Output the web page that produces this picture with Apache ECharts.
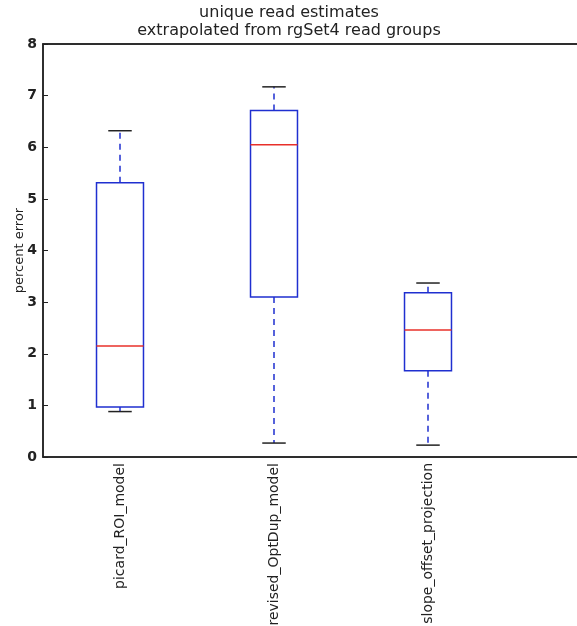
<!DOCTYPE html>
<html><head><meta charset="utf-8">
<script src="https://cdn.jsdelivr.net/npm/echarts@6/dist/echarts.min.js"></script>
<style>html,body{margin:0;padding:0;background:#fff}#c{width:577px;height:626px}</style>
</head><body><div id="c"></div>
<script>
var categories = ['picard_ROI_model', 'revised_OptDup_model', 'slope_offset_projection', ''];
var whiskerLow = [0.88, 0.27, 0.23];
var q1 = [0.97, 3.10, 1.67];
var median = [2.15, 6.05, 2.46];
var q3 = [5.31, 6.71, 3.18];
var whiskerHigh = [6.32, 7.17, 3.37];
var yTicks = [0, 1, 2, 3, 4, 5, 6, 7, 8];

var data = q1.map(function (v, i) {
  return [i, whiskerLow[i], q1[i], median[i], q3[i], whiskerHigh[i]];
});

function renderItem(params, api) {
  var i = api.value(0);
  var band = api.size([1, 0])[0];
  var bw = band * 0.305;
  var cw = bw / 2;
  var x = api.coord([i, 0])[0];
  var yLo = api.coord([i, api.value(1)])[1];
  var yQ1 = api.coord([i, api.value(2)])[1];
  var yMed = api.coord([i, api.value(3)])[1];
  var yQ3 = api.coord([i, api.value(4)])[1];
  var yHi = api.coord([i, api.value(5)])[1];
  var blue = '#1f2fd0';
  return {
    type: 'group',
    children: [
      { type: 'line', shape: { x1: x, y1: yQ1, x2: x, y2: yLo }, style: { stroke: blue, lineWidth: 1.5, lineDash: [6, 5] } },
      { type: 'line', shape: { x1: x, y1: yQ3, x2: x, y2: yHi }, style: { stroke: blue, lineWidth: 1.5, lineDash: [6, 5] } },
      { type: 'line', shape: { x1: x - cw / 2, y1: yLo, x2: x + cw / 2, y2: yLo }, style: { stroke: '#222', lineWidth: 1.5 } },
      { type: 'line', shape: { x1: x - cw / 2, y1: yHi, x2: x + cw / 2, y2: yHi }, style: { stroke: '#222', lineWidth: 1.5 } },
      { type: 'rect', shape: { x: x - bw / 2, y: yQ3, width: bw, height: yQ1 - yQ3 }, style: { fill: 'none', stroke: blue, lineWidth: 1.5 } },
      { type: 'line', shape: { x1: x - bw / 2, y1: yMed, x2: x + bw / 2, y2: yMed }, style: { stroke: '#e8302a', lineWidth: 1.5 } }
    ]
  };
}

var chart = echarts.init(document.getElementById('c'));
chart.setOption({
  animation: false,
  title: {
    text: 'unique read estimates\nextrapolated from rgSet4 read groups',
    left: 284, top: -1, textAlign: 'center',
    textStyle: { fontFamily: 'DejaVu Sans', fontSize: 16, fontWeight: 'normal', color: '#222', lineHeight: 18 }
  },
  grid: { left: 43, top: 44, bottom: 169, width: 616, outerBoundsMode: 'none', containLabel: false, show: true, borderColor: '#222', borderWidth: 1.5, backgroundColor: 'transparent' },
  xAxis: [{
    type: 'category', data: categories, position: 'bottom',
    axisLine: { lineStyle: { color: '#222', width: 1.5 } },
    axisTick: { inside: true, alignWithLabel: true, length: 5, lineStyle: { color: '#222' } },
    axisLabel: { rotate: 90, margin: 6, color: '#222', fontFamily: 'DejaVu Sans', fontSize: 14, interval: 0 }
  }, {
    type: 'category', data: categories, position: 'top',
    axisLine: { lineStyle: { color: '#222', width: 1.5 } },
    axisTick: { inside: true, alignWithLabel: true, length: 5, lineStyle: { color: '#222' } },
    axisLabel: { show: false }
  }],
  yAxis: {
    type: 'value', min: yTicks[0], max: yTicks[yTicks.length - 1], interval: 1,
    name: 'percent error', nameLocation: 'middle', nameGap: 17, nameMoveOverlap: false,
    nameTextStyle: { fontFamily: 'DejaVu Sans', fontSize: 13, color: '#222' },
    axisLine: { show: true, lineStyle: { color: '#222', width: 1.5 } },
    axisTick: { show: true, inside: true, length: 5, lineStyle: { color: '#222' } },
    splitLine: { show: false },
    axisLabel: { color: '#222', fontFamily: 'DejaVu Sans', fontSize: 14, fontWeight: 'bold', margin: 6 }
  },
  series: [{
    type: 'custom', renderItem: renderItem, data: data,
    encode: { x: 0, y: [1, 2, 3, 4, 5] }
  }]
});
</script></body></html>
